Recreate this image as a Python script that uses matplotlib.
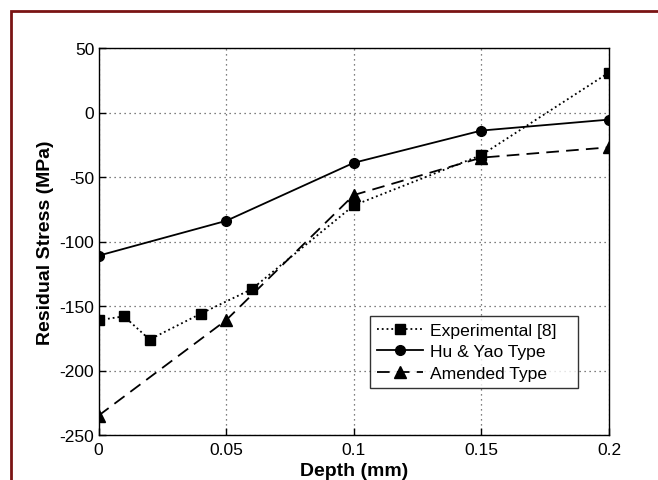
import numpy as np
import matplotlib as mpl
mpl.use('agg')
import matplotlib.pyplot as plt
from matplotlib.patches import Rectangle

plt.rcParams['font.family'] = ['Liberation Sans', 'DejaVu Sans']
plt.rcParams['axes.unicode_minus'] = False

# data
exp_x = [0, 0.01, 0.02, 0.04, 0.06, 0.1, 0.15, 0.2]
exp_y = [-161, -158, -176, -156, -137, -72, -33, 31]
hy_x = [0, 0.05, 0.1, 0.15, 0.2]
hy_y = [-111, -84, -39, -14, -5.5]
am_x = [0, 0.05, 0.1, 0.15, 0.2]
am_y = [-235, -161, -64, -35, -27]

fig = plt.figure(figsize=(6.58, 4.81), dpi=100)
W, H = 658, 481
ax = fig.add_axes((98.5 / W, 1 - 436 / H, (609 - 98.5) / W, (436 - 49) / H))

ax.plot(exp_x, exp_y, color='k', linestyle=':', linewidth=1.3, marker='s', markersize=7,
        label='Experimental [8]   ')
ax.plot(hy_x, hy_y, color='k', linestyle='-', linewidth=1.3, marker='o', markersize=7,
        label='Hu & Yao Type')
ax.plot(am_x, am_y, color='k', linestyle=(0, (7, 4)), linewidth=1.3, marker='^', markersize=8,
        label='Amended Type')

ax.set_xlim(0, 0.2)
ax.set_ylim(-250, 50)
ax.set_xticks([0, 0.05, 0.1, 0.15, 0.2])
ax.set_xticklabels(['0', '0.05', '0.1', '0.15', '0.2'])
ax.set_yticks([50, 0, -50, -100, -150, -200, -250])
ax.grid(True, color='#555555', linestyle=(0, (1, 3)), linewidth=0.9)
ax.tick_params(direction='in', length=5, labelsize=12.5, width=1, pad=3)
ax.tick_params(axis='x', pad=5)
for s in ax.spines.values():
    s.set_linewidth(1)

ax.set_xlabel('Depth (mm)', fontsize=14, fontweight='bold', labelpad=4)
ax.set_ylabel('Residual Stress (MPa)', fontsize=14, fontweight='bold', labelpad=4)

leg = ax.legend(loc='lower left', bbox_to_anchor=((370 - 98.5) / (609 - 98.5), (436 - 389) / (436 - 49)),
                borderaxespad=0, fontsize=12.6, frameon=True, fancybox=False, edgecolor='k',
                handlelength=2.6, borderpad=0.4, labelspacing=0.36, handletextpad=0.4)
leg.get_frame().set_linewidth(1)

fig.patches.append(Rectangle((11 / W, -0.1), 1.2, 1 - 12 / H + 0.1, transform=fig.transFigure,
                             fill=False, edgecolor='#7a1414', linewidth=2))

plt.savefig('out.png', dpi=100)
